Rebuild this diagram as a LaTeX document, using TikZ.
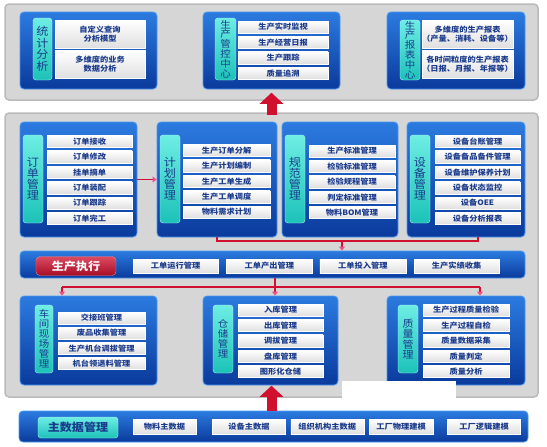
\documentclass[tikz,border=0pt]{standalone}
\usepackage{fontspec}
\setmainfont[FakeStretch=1.1]{Noto Sans CJK SC}
\usetikzlibrary{arrows.meta, positioning}

\definecolor{panelgray}{HTML}{D6D6D6}
\definecolor{paneledge}{HTML}{BABABA}
\definecolor{boxtop}{HTML}{2C7BE0}
\definecolor{boxbot}{HTML}{0A3A9C}
\definecolor{boxedge}{HTML}{4A98F0}
\definecolor{itemtxt}{HTML}{1A3A8C}
\definecolor{tagtop}{HTML}{6EEDE4}
\definecolor{tagbot}{HTML}{1CC2B8}
\definecolor{hotred}{HTML}{D0102E}
\definecolor{hotpink}{HTML}{F0508A}

\tikzset{
  panel/.style={draw=paneledge, fill=panelgray, line width=1.5pt, rounded corners=4pt, inner sep=0},
  block/.style={draw=boxedge, top color=boxtop, bottom color=boxbot, line width=0.8pt, rounded corners=4pt, inner sep=0},
  item/.style={draw=white, top color=white, bottom color=gray!25, line width=0.4pt, text=itemtxt,
    font=\bfseries\fontsize{7.5}{9}\selectfont, inner sep=0, minimum height=12, align=center},
  tag/.style={draw=tagtop!50!white, top color=tagtop, bottom color=tagbot, rounded corners=3pt,
    text=itemtxt, inner sep=0, align=center, font=\fontsize{11}{11}\selectfont},
  hot/.style={draw=hotred!50!white, top color=hotred!75!white, bottom color=hotred!80!black, rounded corners=4pt,
    text=white, inner sep=0, font=\bfseries\fontsize{11}{12}\selectfont},
  link/.style={draw=hotred, line width=1.2pt},
  redarr/.style={link, -{Triangle[width=6pt,length=4pt,color=hotpink]}},
  bigup/.style={draw=hotred, line width=10pt, -{Triangle[width=23pt,length=11pt]}}
}

\begin{document}
\begin{tikzpicture}[x=1pt, y=-1pt, node distance=3pt]

\fill[white] (0,0) rectangle (547,447);
\useasboundingbox (0,0) rectangle (547,447);

% grey panels
\node[panel, minimum width=533, minimum height=96] (toppanel) at (271.5,52) {};
\node[panel, minimum width=533, minimum height=284] (midpanel) at (271.5,255) {};

% top row
\node[block, minimum width=137, minimum height=77] (stat) at (88.5,50.5) {};
\node[tag, minimum width=19, minimum height=62, font=\fontsize{11}{11.5}\selectfont] (statTag) at (42.5,49) {统\\计\\分\\析};
\node[item, minimum width=90, minimum height=28] (stat1) at (100,34) {自定义查询\\分析模型};
\node[item, minimum width=90, minimum height=28, below=2pt of stat1] (stat2) {多维度的业务\\数据分析};

\node[block, minimum width=137, minimum height=77] (ctrl) at (271.5,50.5) {};
\node[tag, minimum width=21, minimum height=62, font=\fontsize{9.5}{9.8}\selectfont] (ctrlTag) at (225.5,49) {生\\产\\管\\控\\中\\心};
\node[item, minimum width=90] (ctrl1) at (283,27) {生产实时监视};
\node[item, minimum width=90, below=of ctrl1] (ctrl2) {生产经营日报};
\node[item, minimum width=90, below=of ctrl2] (ctrl3) {生产跟踪};
\node[item, minimum width=90, below=of ctrl3] (ctrl4) {质量追溯};

\node[block, minimum width=138, minimum height=77] (rpt) at (456,50.5) {};
\node[tag, minimum width=20, minimum height=60, font=\fontsize{9.5}{9.8}\selectfont] (rptTag) at (410,50) {生\\产\\报\\表\\中\\心};
\node[item, minimum width=89, minimum height=28] (rpt1) at (467.5,34) {多维度的生产报表\\（产量、消耗、设备等）};
\node[item, minimum width=89, minimum height=28, below=2pt of rpt1] (rpt2) {各时间粒度的生产报表\\（日报、月报、年报等）};

% middle row
\node[block, minimum width=117, minimum height=115] (order) at (78.5,179.5) {};
\node[tag, minimum width=20, minimum height=88] (orderTag) at (33,179) {订\\单\\管\\理};
\node[item, minimum width=85] (ord1) at (89.5,141.5) {订单接收};
\node[item, minimum width=85, below=of ord1] (ord2) {订单修改};
\node[item, minimum width=85, below=of ord2] (ord3) {挂单摘单};
\node[item, minimum width=85, below=of ord3] (ord4) {订单装配};
\node[item, minimum width=85, below=of ord4] (ord5) {订单跟踪};
\node[item, minimum width=85, below=of ord5] (ord6) {订单完工};

\node[block, minimum width=120, minimum height=115] (plan) at (217,179.5) {};
\node[tag, minimum width=20, minimum height=88] (planTag) at (170,179) {计\\划\\管\\理};
\node[item, minimum width=87] (plan1) at (226.5,150.5) {生产订单分解};
\node[item, minimum width=87, below=of plan1] (plan2) {生产计划编制};
\node[item, minimum width=87, below=of plan2] (plan3) {生产工单生成};
\node[item, minimum width=87, below=of plan3] (plan4) {生产工单调度};
\node[item, minimum width=87, below=of plan4] (plan5) {物料需求计划};

\node[block, minimum width=116, minimum height=115] (norm) at (340,179.5) {};
\node[tag, minimum width=20, minimum height=88] (normTag) at (295,179) {规\\范\\管\\理};
\node[item, minimum width=86] (norm1) at (352,151) {生产标准管理};
\node[item, minimum width=86, below=of norm1] (norm2) {检验标准管理};
\node[item, minimum width=86, below=of norm2] (norm3) {检验规程管理};
\node[item, minimum width=86, below=of norm3] (norm4) {判定标准管理};
\node[item, minimum width=86, below=of norm4] (norm5) {物料BOM管理};

\node[block, minimum width=118, minimum height=115] (equip) at (466,179.5) {};
\node[tag, minimum width=20, minimum height=88] (equipTag) at (420,179) {设\\备\\管\\理};
\node[item, minimum width=85] (eqp1) at (477.5,141.5) {设备台账管理};
\node[item, minimum width=85, below=of eqp1] (eqp2) {设备备品备件管理};
\node[item, minimum width=85, below=of eqp2] (eqp3) {设备维护保养计划};
\node[item, minimum width=85, below=of eqp3] (eqp4) {设备状态监控};
\node[item, minimum width=85, below=of eqp4] (eqp5) {设备OEE};
\node[item, minimum width=85, below=of eqp5] (eqp6) {设备分析报表};

% execution bar
\node[block, minimum width=505, minimum height=27] (exec) at (272.5,264.5) {};
\node[hot, minimum width=80, minimum height=19] (execTag) at (76,266) {生产执行};
\node[item, minimum width=85, minimum height=14] (exec1) at (175.5,266) {工单运行管理};
\node[item, minimum width=86, minimum height=14, right=8pt of exec1] (exec2) {工单产出管理};
\node[item, minimum width=86, minimum height=14, right=7pt of exec2] (exec3) {工单投入管理};
\node[item, minimum width=85, minimum height=14, right=8pt of exec3] (exec4) {生产实绩收集};

% bottom row
\node[block, minimum width=137, minimum height=89] (shop) at (88.5,340.5) {};
\node[tag, minimum width=18, minimum height=68, font=\fontsize{9.5}{10}\selectfont] (shopTag) at (44,339) {车\\间\\现\\场\\管\\理};
\node[item, minimum width=87] (shop1) at (101.5,318) {交接班管理};
\node[item, minimum width=87, below=2.7pt of shop1] (shop2) {废品收集管理};
\node[item, minimum width=87, below=2.7pt of shop2] (shop3) {生产机台调拔管理};
\node[item, minimum width=87, below=2.7pt of shop3] (shop4) {机台领退料管理};

\node[block, minimum width=135, minimum height=89] (store) at (270.5,340.5) {};
\node[tag, minimum width=20, minimum height=68, font=\fontsize{9.5}{10}\selectfont] (storeTag) at (223,339) {仓\\储\\管\\理};
\node[item, minimum width=85] (sto1) at (280.5,310) {入库管理};
\node[item, minimum width=85, below=of sto1] (sto2) {出库管理};
\node[item, minimum width=85, below=of sto2] (sto3) {调拔管理};
\node[item, minimum width=85, below=of sto3] (sto4) {盘库管理};
\node[item, minimum width=85, below=of sto4] (sto5) {图形化仓储};

\node[block, minimum width=138, minimum height=89] (qual) at (456,340.5) {};
\node[tag, minimum width=20, minimum height=68, font=\fontsize{10}{10.5}\selectfont] (qualTag) at (408,339) {质\\量\\管\\理};
\node[item, minimum width=86] (qual1) at (466,310) {生产过程质量检验};
\node[item, minimum width=86, below=of qual1] (qual2) {生产过程自检};
\node[item, minimum width=86, below=of qual2] (qual3) {质量数据采集};
\node[item, minimum width=86, below=of qual3] (qual4) {质量判定};
\node[item, minimum width=86, below=of qual4] (qual5) {质量分析};

% master data bar
\node[block, minimum width=509, minimum height=31] (master) at (273.5,426.5) {};
\node[tag, minimum width=80, minimum height=21, font=\bfseries\fontsize{11}{12}\selectfont] (masterTag) at (78,427.5) {主数据管理};
\node[item, minimum width=63, minimum height=15] (mst1) at (164.5,426.5) {物料主数据};
\node[item, minimum width=73, minimum height=15, right=16pt of mst1] (mst2) {设备主数据};
\node[item, minimum width=73, minimum height=15, right=5pt of mst2] (mst3) {组织机构主数据};
\node[item, minimum width=64, minimum height=15, right=5pt of mst3] (mst4) {工厂物理建模};
\node[item, minimum width=73, minimum height=15, right=14pt of mst4] (mst5) {工厂逻辑建模};

% connectors
\coordinate (hub1) at (342,241);
\coordinate (tapE) at (478,241);
\coordinate (hub2) at (275,287);
\coordinate (tapL) at (62,287);
\coordinate (tapR) at (480,287);

\draw[redarr] (order) -- (plan);
\draw[link] (plan.south) |- (tapE) -- (tapE |- equip.south);
\draw[redarr] (hub1) -- (hub1 |- exec.north);
\draw[link] (tapL) -- (tapR);
\draw[redarr] (hub2 |- exec.south) -- (hub2 |- store.north);
\draw[redarr] (tapL) -- (tapL |- shop.north);
\draw[redarr] (tapR) -- (tapR |- qual.north);

\draw[bigup] ([yshift=-3pt]midpanel.north) -- ([yshift=8pt]toppanel.south);
\draw[bigup] (master.north -| midpanel.south) -- ([yshift=12pt]midpanel.south);

\fill[white] (342,381) rectangle (456,410);

\end{tikzpicture}
\end{document}
